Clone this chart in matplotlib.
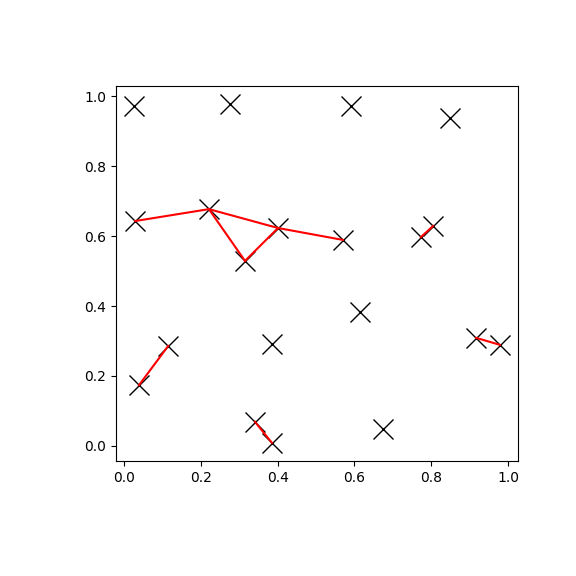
import numpy as np
import matplotlib
matplotlib.use("Agg")
import matplotlib.pyplot as plt

# point coordinates
x = [0.026, 0.276, 0.591, 0.849, 0.029, 0.221, 0.315, 0.401, 0.570, 0.773,
     0.805, 0.615, 0.115, 0.039, 0.385, 0.917, 0.979, 0.341, 0.385, 0.674]
y = [0.971, 0.977, 0.971, 0.937, 0.643, 0.677, 0.529, 0.623, 0.589, 0.597,
     0.629, 0.383, 0.286, 0.174, 0.291, 0.309, 0.289, 0.069, 0.009, 0.049]

# pairs of point indices joined by red segments
edges = [(4, 5), (5, 6), (6, 7), (5, 7), (7, 8), (9, 10), (12, 13), (15, 16), (17, 18)]

fig = plt.figure(figsize=(5.76, 5.76), dpi=100)
ax = fig.add_axes([116 / 576, 115 / 576, 402 / 576, 375 / 576])

ax.plot(x, y, 'x', color='black', markersize=14.5, markeredgewidth=1.0)
for i, j in edges:
    ax.plot([x[i], x[j]], [y[i], y[j]], color='red', linewidth=1.5)

ax.set_xlim(-0.021, 1.026)
ax.set_ylim(-0.043, 1.029)
ax.set_xticks(np.arange(0, 1.01, 0.2))
ax.set_yticks(np.arange(0, 1.01, 0.2))

fig.savefig("out.png", dpi=100)
